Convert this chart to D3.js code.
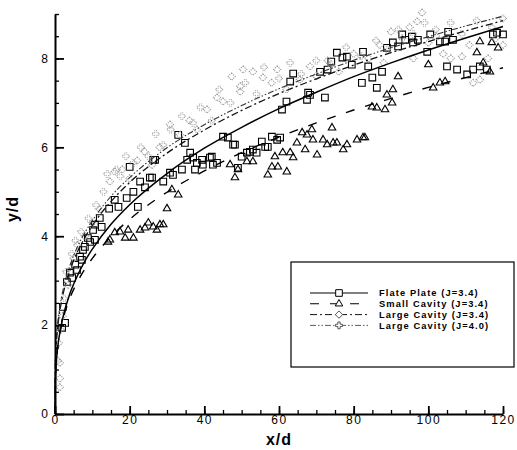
<!DOCTYPE html>
<html>
<head>
<meta charset="utf-8">
<script src="https://cdn.jsdelivr.net/npm/d3@7"></script>
<style>
  body { margin: 0; background: #fff; }
  text { font-family: "Liberation Sans", Arial, sans-serif; fill: #000; }
</style>
</head>
<body>
<div id="chart-area"></div>
<script>
// fitted curves
const curveX = [0, 0.1, 0.5, 1, 2, 4, 6, 8, 10, 15, 20, 30, 40, 50, 60, 70, 80, 90, 100, 110, 120]
const flatPlateFit = [0, 0.76, 1.32, 1.68, 2.13, 2.71, 3.11, 3.44, 3.71, 4.27, 4.71, 5.41, 5.98, 6.45, 6.87, 7.24, 7.59, 7.90, 8.19, 8.46, 8.72]
const smallCavityFit = [0, 0.79, 1.33, 1.67, 2.08, 2.61, 2.97, 3.26, 3.50, 3.99, 4.38, 4.99, 5.47, 5.88, 6.23, 6.55, 6.84, 7.10, 7.35, 7.57, 7.79]
const largeCavity34Fit = [0, 1.09, 1.75, 2.15, 2.63, 3.23, 3.65, 3.97, 4.24, 4.78, 5.21, 5.87, 6.39, 6.83, 7.21, 7.54, 7.85, 8.13, 8.38, 8.62, 8.85]
const largeCavity40Fit = [0, 1.15, 1.83, 2.23, 2.73, 3.34, 3.76, 4.08, 4.35, 4.90, 5.32, 5.99, 6.51, 6.94, 7.32, 7.65, 7.96, 8.24, 8.49, 8.73, 8.95]

// measured points
const flatPlateX = [1.9, 2.7, 2.1, 3.2, 4.6, 4.0, 5.9, 5.4, 7.2, 6.7, 7.5, 8.0, 9.4, 10.7, 8.8, 10.2, 12.5, 10.7, 12.0, 14.5,
  17.0, 22.2, 16.0, 19.2, 21.0, 22.8, 24.1, 29.0, 26.0, 25.4, 30.8, 31.6, 34.0, 20.0, 26.8, 26.3, 35.4, 36.2, 34.8, 33.0,
  37.5, 38.0, 39.6, 42.3, 43.4, 41.5, 37.0, 39.4, 42.0, 45.0, 46.3, 47.7, 48.2, 49.0, 50.0, 51.4, 52.2, 53.0, 54.0, 55.4,
  56.3, 57.0, 58.1, 59.5, 60.3, 60.8, 62.0, 63.0, 63.8, 67.5, 67.8, 68.3, 71.0, 72.3, 73.0, 74.0, 75.5, 77.0, 78.2, 79.5,
  82.5, 83.9, 82.2, 85.0, 86.2, 87.6, 88.9, 90.5, 91.9, 93.0, 93.8, 95.6, 95.9, 97.2, 99.7, 100.5, 103.1, 104.5, 105.3, 106.6,
  105.0, 107.7, 110.4, 112.0, 113.8, 115.7, 117.3, 118.4, 120.0]
const flatPlateY = [1.94, 2.05, 2.41, 2.97, 3.06, 3.18, 3.24, 3.36, 3.47, 3.54, 3.69, 3.76, 3.87, 3.92, 3.96, 4.14, 4.21, 4.26, 4.41, 4.62,
  4.66, 4.66, 4.82, 4.86, 5.00, 5.23, 5.10, 5.23, 5.32, 5.32, 5.43, 5.38, 5.50, 5.56, 5.72, 5.72, 5.72, 5.88, 6.10, 6.28,
  5.50, 5.65, 5.61, 5.61, 5.65, 5.77, 5.77, 5.72, 5.79, 6.24, 6.22, 6.06, 6.06, 5.54, 5.79, 5.88, 5.90, 5.95, 5.88, 6.13,
  6.01, 6.01, 6.24, 6.17, 6.22, 6.85, 7.03, 7.48, 7.66, 7.07, 7.23, 7.18, 7.70, 7.12, 7.75, 7.93, 8.13, 8.02, 8.04, 7.86,
  8.15, 7.82, 7.45, 7.57, 7.34, 7.70, 8.24, 8.36, 8.27, 8.54, 8.42, 8.49, 8.36, 8.42, 8.15, 8.54, 8.38, 8.38, 8.60, 8.42,
  7.82, 7.75, 7.64, 7.75, 7.82, 7.75, 8.54, 8.58, 8.54]

const smallCavityX = [14.2, 14.7, 16.0, 17.4, 18.8, 19.6, 21.0, 22.8, 24.1, 25.0, 26.3, 27.3, 28.1, 29.0, 30.0, 31.3, 33.0,
  46.9, 48.2, 49.0, 51.4, 53.0, 57.0, 58.1, 58.9, 59.7, 61.0, 62.1, 63.0, 63.8, 64.8, 66.2, 67.0, 67.5, 68.8, 69.1, 70.2,
  71.8, 72.9, 74.2, 74.5, 75.5, 77.2, 78.2, 80.9, 82.5, 83.0, 84.9, 86.2, 88.4, 88.9, 90.3, 90.5, 91.9, 100.0, 101.3, 103.1,
  104.5, 113.0, 113.8, 114.7, 116.5, 117.0, 118.7]
const smallCavityY = [3.87, 3.92, 4.08, 4.10, 3.96, 4.14, 3.96, 4.14, 4.19, 4.30, 4.21, 4.14, 4.26, 4.26, 4.62, 5.05, 4.93,
  5.61, 5.32, 5.50, 5.68, 5.68, 5.38, 5.56, 5.79, 5.56, 5.88, 5.45, 5.88, 5.77, 6.10, 6.33, 5.95, 6.28, 6.40, 6.17, 5.83,
  6.17, 6.06, 6.44, 6.10, 6.10, 5.95, 6.06, 6.17, 6.22, 6.22, 6.91, 6.89, 6.85, 7.18, 7.00, 7.30, 7.59, 7.86, 7.34, 7.45,
  7.48, 8.13, 8.38, 7.90, 7.70, 8.36, 8.24]

const largeCavity34X = [1.3, 1.3, 1.3, 1.0, 2.0, 3.5, 5.0, 6.0, 8.0, 10.0, 12.0, 14.7, 16.0, 18.0, 20.0, 22.0, 24.0, 26.0,
  28.0, 30.8, 33.5, 36.0, 38.0, 40.7, 43.4, 45.0, 47.3, 49.6, 49.6, 50.4, 53.0, 55.7, 58.0, 59.5, 62.0, 65.6, 68.3, 70.0,
  73.0, 76.0, 80.0, 84.0, 87.0, 88.0, 90.0, 93.0, 95.0, 96.0, 97.0, 98.3, 100.0, 102.0, 104.0, 106.0, 109.0, 111.0, 112.0,
  113.8, 116.0, 118.0, 120.0]
const largeCavity34Y = [0.60, 0.80, 1.15, 1.60, 2.20, 2.90, 3.50, 3.80, 4.00, 4.30, 4.60, 5.23, 5.45, 5.50, 5.30, 5.70, 5.90, 5.60,
  6.00, 6.51, 6.28, 6.60, 6.40, 6.85, 7.12, 7.03, 7.59, 7.25, 7.37, 7.75, 7.70, 7.57, 7.45, 7.75, 7.30, 7.52, 7.82, 7.60,
  7.95, 7.70, 8.10, 8.00, 8.30, 7.90, 8.60, 8.45, 8.70, 8.00, 8.83, 9.03, 8.35, 8.50, 8.10, 8.00, 8.04, 8.30, 7.45,
  7.52, 8.00, 8.45, 8.30]

const largeCavity40X = [0.8, 1.5, 2.5, 3.0, 4.5, 5.5, 7.0, 9.0, 11.0, 13.0, 14.0, 16.5, 17.5, 19.0, 21.0, 23.0, 25.0, 27.0,
  29.0, 31.0, 34.0, 37.0, 39.0, 42.0, 44.0, 47.0, 51.0, 54.0, 56.0, 60.0, 63.0, 66.0, 70.0, 74.0, 78.0, 82.0, 86.0, 89.0,
  92.0, 96.0, 99.0, 102.0, 106.0, 109.0, 113.0, 117.0, 120.0]
const largeCavity40Y = [1.20, 1.90, 2.60, 3.20, 3.60, 3.90, 4.10, 4.40, 4.70, 5.00, 5.40, 5.50, 5.35, 5.80, 5.65, 6.00, 5.80, 6.30,
  6.05, 6.40, 6.70, 6.55, 6.90, 6.60, 7.30, 7.00, 7.45, 7.20, 7.80, 7.55, 7.90, 7.65, 7.95, 7.85, 8.25, 8.05, 8.40, 8.20,
  8.65, 8.55, 8.80, 8.65, 8.80, 8.55, 8.85, 8.70, 8.90]

const legendLabels = ["Flate Plate (J=3.4)", "Small Cavity (J=3.4)", "Large Cavity (J=3.4)", "Large Cavity (J=4.0)"]
const xTicks = [0, 20, 40, 60, 80, 100, 120]
const yTicks = [0, 2, 4, 6, 8]

const MARGIN = { LEFT: 55, RIGHT: 14, TOP: 14, BOTTOM: 36 }
const WIDTH = 517 - MARGIN.LEFT - MARGIN.RIGHT
const HEIGHT = 450 - MARGIN.TOP - MARGIN.BOTTOM

const svg = d3.select("#chart-area").append("svg")
  .attr("width", 517)
  .attr("height", 450)

const g = svg.append("g")
  .attr("transform", `translate(${MARGIN.LEFT}, ${MARGIN.TOP})`)

const x = d3.scaleLinear().domain([0, 120]).range([0, WIDTH])
const y = d3.scaleLinear().domain([0, 9]).range([HEIGHT, 0])

const FAINT = "#9a9a9a"

// series styles
const series = [
  { name: legendLabels[0], fit: flatPlateFit, px: flatPlateX, py: flatPlateY, marker: "square",
    color: "#000", dash: null, width: 1.5, mcolor: "#000", mdash: null },
  { name: legendLabels[1], fit: smallCavityFit, px: smallCavityX, py: smallCavityY, marker: "triangle",
    color: "#000", dash: "9,11", width: 1.4, mcolor: "#000", mdash: null },
  { name: legendLabels[2], fit: largeCavity34Fit, px: largeCavity34X, py: largeCavity34Y, marker: "diamond",
    color: "#111", dash: "7,3,2,3", width: 1.3, mcolor: FAINT, mdash: "1.2,1" },
  { name: legendLabels[3], fit: largeCavity40Fit, px: largeCavity40X, py: largeCavity40Y, marker: "plus",
    color: "#333", dash: "6,2,1.5,2,1.5,2", width: 1.1, mcolor: FAINT, mdash: "1,1" }
]

const symbols = {
  square: d3.symbolSquare,
  triangle: d3.symbolTriangle2,
  diamond: d3.symbolDiamond2,
  plus: d3.symbolCross
}
const sizes = { square: 44, triangle: 40, diamond: 34, plus: 26 }

function markerPath(m) {
  return d3.symbol().type(symbols[m]).size(sizes[m])()
}

// markers
series.forEach(s => {
  const pts = s.px.map((v, i) => ({ x: v, y: s.py[i] }))
  g.append("g")
    .selectAll("path")
    .data(pts)
    .enter().append("path")
    .attr("d", markerPath(s.marker))
    .attr("transform", d => `translate(${x(d.x)}, ${y(d.y)})`)
    .attr("fill", "none")
    .attr("stroke", s.mcolor)
    .attr("stroke-width", s.marker == "plus" ? 1 : 1.1)
    .attr("stroke-dasharray", s.mdash)
})

// fit lines
const line = d3.line()
  .x(d => x(d.x))
  .y(d => y(d.y))
  .curve(d3.curveMonotoneX)

series.forEach(s => {
  g.append("path")
    .datum(curveX.map((v, i) => ({ x: v, y: s.fit[i] })))
    .attr("d", line)
    .attr("fill", "none")
    .attr("stroke", s.color)
    .attr("stroke-width", s.width)
    .attr("stroke-dasharray", s.dash)
})

// minor ticks
g.append("g")
  .attr("transform", `translate(0, ${HEIGHT})`)
  .call(d3.axisBottom(x).tickValues(d3.range(0, 121, 5)).tickSize(-4).tickFormat(""))
  .call(a => a.select(".domain").remove())
  .selectAll("line").attr("stroke-width", 1.3)

g.append("g")
  .call(d3.axisLeft(y).tickValues(d3.range(0, 9.01, 0.5)).tickSize(-4).tickFormat(""))
  .call(a => a.select(".domain").remove())
  .selectAll("line").attr("stroke-width", 1.3)

// major axes
const xAxisCall = d3.axisBottom(x)
  .tickValues(xTicks)
  .tickSizeInner(-8)
  .tickSizeOuter(0)
  .tickPadding(1)
g.append("g")
  .attr("class", "x axis")
  .attr("transform", `translate(0, ${HEIGHT})`)
  .call(xAxisCall)
  .call(a => a.select(".domain").attr("stroke-width", 2))
  .call(a => a.selectAll("line").attr("stroke-width", 1.8))
  .selectAll("text")
    .attr("font-size", "12px")
    .attr("letter-spacing", "1.5px")
    .attr("fill", "#000")

const yAxisCall = d3.axisLeft(y)
  .tickValues(yTicks)
  .tickSizeInner(-9)
  .tickSizeOuter(0)
  .tickPadding(7)
g.append("g")
  .attr("class", "y axis")
  .call(yAxisCall)
  .call(a => a.select(".domain").attr("stroke-width", 2))
  .call(a => a.selectAll("line").attr("stroke-width", 1.8))
  .selectAll("text")
    .attr("font-size", "12px")
    .attr("fill", "#000")

g.selectAll(".axis text").attr("font-family", "'Liberation Sans', Arial, sans-serif")

// axis labels
svg.append("text")
  .attr("x", MARGIN.LEFT + WIDTH / 2)
  .attr("y", 445)
  .attr("text-anchor", "middle")
  .attr("font-size", "16px")
  .attr("font-weight", "bold")
  .attr("letter-spacing", "1px")
  .text("x/d")

svg.append("text")
  .attr("transform", "translate(18, 209) rotate(-90)")
  .attr("text-anchor", "middle")
  .attr("font-size", "16px")
  .attr("font-weight", "bold")
  .attr("letter-spacing", "1px")
  .text("y/d")

// legend
const legend = svg.append("g").attr("transform", "translate(291, 262)")
legend.append("rect")
  .attr("width", 223)
  .attr("height", 105)
  .attr("fill", "#fff")
  .attr("stroke", "#000")
  .attr("stroke-width", 1.2)

const rows = legend.selectAll(".row")
  .data(series)
  .enter().append("g")
  .attr("class", "row")
  .attr("transform", (d, i) => `translate(0, ${31 + i * 10.8})`)

rows.append("line")
  .attr("x1", 19).attr("x2", 77)
  .attr("stroke", d => d.color)
  .attr("stroke-width", d => d.width - 0.3)
  .attr("stroke-dasharray", d => d.dash)

rows.append("path")
  .attr("d", d => markerPath(d.marker))
  .attr("transform", "translate(48, 0)")
  .attr("fill", "#fff")
  .attr("stroke", d => d.mcolor == FAINT ? "#555" : "#000")
  .attr("stroke-width", 1)

rows.append("text")
  .attr("x", 88)
  .attr("dy", "0.35em")
  .attr("font-size", "9.3px")
  .attr("font-weight", "bold")
  .attr("letter-spacing", "1.1px")
  .text(d => d.name)
</script>
</body>
</html>
